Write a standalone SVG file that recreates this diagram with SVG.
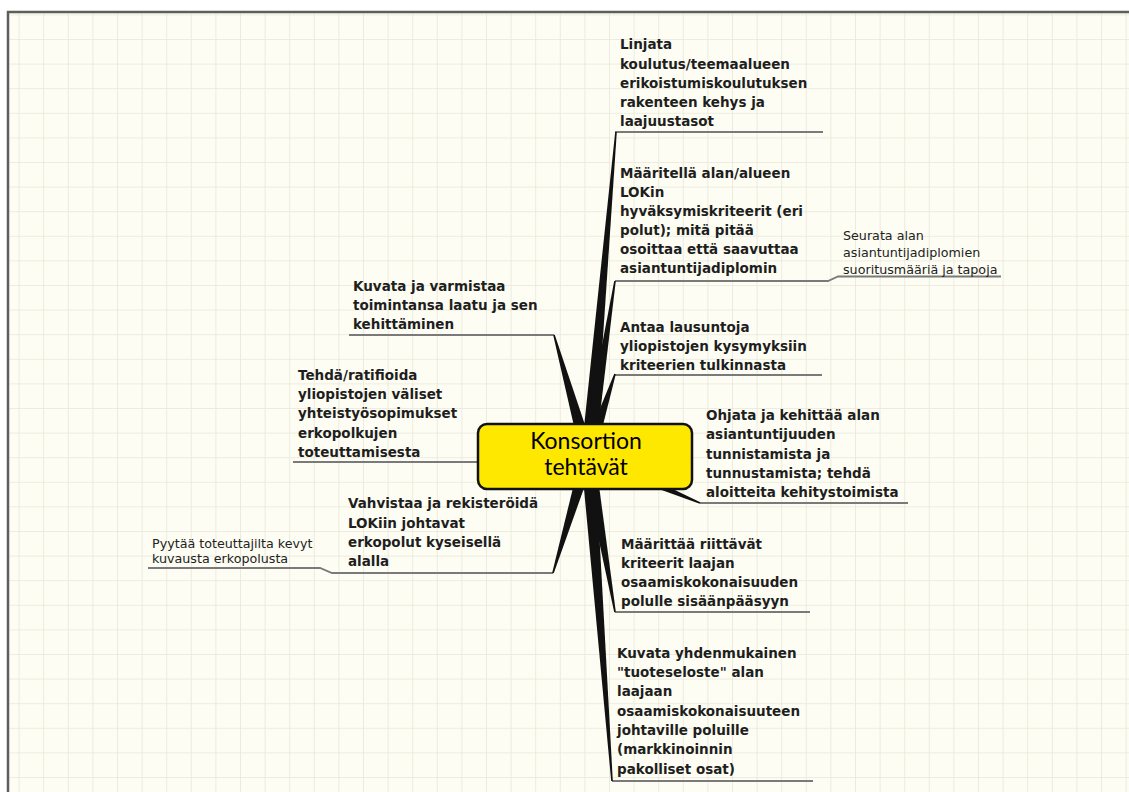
<svg xmlns="http://www.w3.org/2000/svg" width="1129" height="792" viewBox="0 0 1129 792">
  <defs>
    <pattern id="grid" patternUnits="userSpaceOnUse" x="18.6" y="14.4" width="24.6" height="24.6">
      <rect width="24.6" height="24.6" fill="#fdfdf3"/>
      <path d="M0 0 H24.6 M0 0 V24.6" stroke="#e9e7da" stroke-width="1.6" fill="none"/>
    </pattern>
    <style>
      .t { font-family: "DejaVu Sans", Verdana, sans-serif; font-weight: bold; font-size: 13.5px; fill: #1e1e1e; }
      .s { font-family: "DejaVu Sans", Verdana, sans-serif; font-size: 12.7px; fill: #222; }
      .ul { stroke: #7a7a7a; stroke-width: 1.8; fill: none; }
      .spike { fill: #111; }
      .c { font-family: Lato, "Open Sans", sans-serif; font-size: 23px; fill: #000; text-anchor: middle; }
    </style>
  </defs>

  <rect x="0" y="0" width="1129" height="792" fill="#ffffff"/>
  <rect x="8" y="12" width="1121" height="780" fill="url(#grid)"/>
  <path d="M8 792 V12 H1129" stroke="#5e5e5e" stroke-width="2.5" fill="none"/>

  <g id="connectors">
    <path class="ul" d="M615 132 H823"/>
    <path class="ul" d="M615 281 H828 L838 276.5 H1001"/>
    <path class="ul" d="M615 375 H822"/>
    <path class="ul" d="M349 335 H554"/>
    <path class="ul" d="M293 462 H478"/>
    <path class="ul" d="M148 568 H320 L332 573 H553"/>
    <path class="ul" d="M700 503 H908"/>
    <path class="ul" d="M615 612 H810"/>
    <path class="ul" d="M612 781 H813"/>

    <polygon class="spike" points="594.97,456.60 616.80,132.07 615.20,131.93 581.03,455.40"/>
    <polygon class="spike" points="594.92,457.07 615.79,281.12 614.21,280.88 581.08,454.93"/>
    <polygon class="spike" points="594.65,458.19 615.76,374.25 614.24,373.75 581.35,453.81"/>
    <polygon class="spike" points="594.74,454.11 554.77,334.78 553.23,335.22 581.26,457.89"/>
    <polygon class="spike" points="587.62,449.01 477.96,461.20 478.04,462.80 588.38,462.99"/>
    <polygon class="spike" points="581.29,453.99 552.23,572.77 553.77,573.23 594.71,458.01"/>
    <polygon class="spike" points="585.29,462.45 699.69,503.74 700.31,502.26 590.71,449.55"/>
    <polygon class="spike" points="581.10,457.19 614.21,612.14 615.79,611.86 594.90,454.81"/>
    <polygon class="spike" points="581.02,456.52 611.20,781.06 612.80,780.94 594.98,455.48"/>
  </g>

  <g id="center">
    <rect x="478" y="424" width="214" height="65" rx="9" fill="#ffe800" stroke="#111" stroke-width="2.5"/>
    <text class="c" x="586" y="448.5">Konsortion</text>
    <text class="c" x="586" y="474.5">tehtävät</text>
  </g>

  <g id="t1">
    <text class="t" x="620" y="49.3">Linjata</text>
    <text class="t" x="620" y="68.5">koulutus/teemaalueen</text>
    <text class="t" x="620" y="87.7">erikoistumiskoulutuksen</text>
    <text class="t" x="620" y="106.9">rakenteen kehys ja</text>
    <text class="t" x="620" y="126.1">laajuustasot</text>
  </g>

  <g id="t2">
    <text class="t" x="620" y="178.3">Määritellä alan/alueen</text>
    <text class="t" x="620" y="197.3">LOKin</text>
    <text class="t" x="620" y="216.3">hyväksymiskriteerit (eri</text>
    <text class="t" x="620" y="235.3">polut); mitä pitää</text>
    <text class="t" x="620" y="254.3">osoittaa että saavuttaa</text>
    <text class="t" x="620" y="273.3">asiantuntijadiplomin</text>
  </g>

  <g id="t2a">
    <text class="s" x="843" y="240">Seurata alan</text>
    <text class="s" x="843" y="257">asiantuntijadiplomien</text>
    <text class="s" x="843" y="274">suoritusmääriä ja tapoja</text>
  </g>

  <g id="t3">
    <text class="t" x="620" y="331.5">Antaa lausuntoja</text>
    <text class="t" x="620" y="350.7">yliopistojen kysymyksiin</text>
    <text class="t" x="620" y="369.9">kriteerien tulkinnasta</text>
  </g>

  <g id="t4">
    <text class="t" x="353" y="290.5">Kuvata ja varmistaa</text>
    <text class="t" x="353" y="309.8">toimintansa laatu ja sen</text>
    <text class="t" x="353" y="329">kehittäminen</text>
  </g>

  <g id="t5">
    <text class="t" x="298" y="380">Tehdä/ratifioida</text>
    <text class="t" x="298" y="399.2">yliopistojen väliset</text>
    <text class="t" x="298" y="418.4">yhteistyösopimukset</text>
    <text class="t" x="298" y="437.6">erkopolkujen</text>
    <text class="t" x="298" y="456.8">toteuttamisesta</text>
  </g>

  <g id="t6">
    <text class="t" x="348" y="508.3">Vahvistaa ja rekisteröidä</text>
    <text class="t" x="348" y="527.5">LOKiin johtavat</text>
    <text class="t" x="348" y="546.7">erkopolut kyseisellä</text>
    <text class="t" x="348" y="565.9">alalla</text>
  </g>

  <g id="t6a">
    <text class="s" x="152" y="548.3">Pyytää toteuttajilta kevyt</text>
    <text class="s" x="152" y="562.8">kuvausta erkopolusta</text>
  </g>

  <g id="t7">
    <text class="t" x="706" y="420">Ohjata ja kehittää alan</text>
    <text class="t" x="706" y="439.3">asiantuntijuuden</text>
    <text class="t" x="706" y="458.6">tunnistamista ja</text>
    <text class="t" x="706" y="477.9">tunnustamista; tehdä</text>
    <text class="t" x="706" y="497.2">aloitteita kehitystoimista</text>
  </g>

  <g id="t8">
    <text class="t" x="621" y="548.6">Määrittää riittävät</text>
    <text class="t" x="621" y="567.8">kriteerit laajan</text>
    <text class="t" x="621" y="587">osaamiskokonaisuuden</text>
    <text class="t" x="621" y="606.2">polulle sisäänpääsyyn</text>
  </g>

  <g id="t9">
    <text class="t" x="617" y="657.6">Kuvata yhdenmukainen</text>
    <text class="t" x="617" y="676.9">"tuoteseloste" alan</text>
    <text class="t" x="617" y="696.2">laajaan</text>
    <text class="t" x="617" y="715.6">osaamiskokonaisuuteen</text>
    <text class="t" x="617" y="734.9">johtaville poluille</text>
    <text class="t" x="617" y="754.3">(markkinoinnin</text>
    <text class="t" x="617" y="773.6">pakolliset osat)</text>
  </g>
</svg>
